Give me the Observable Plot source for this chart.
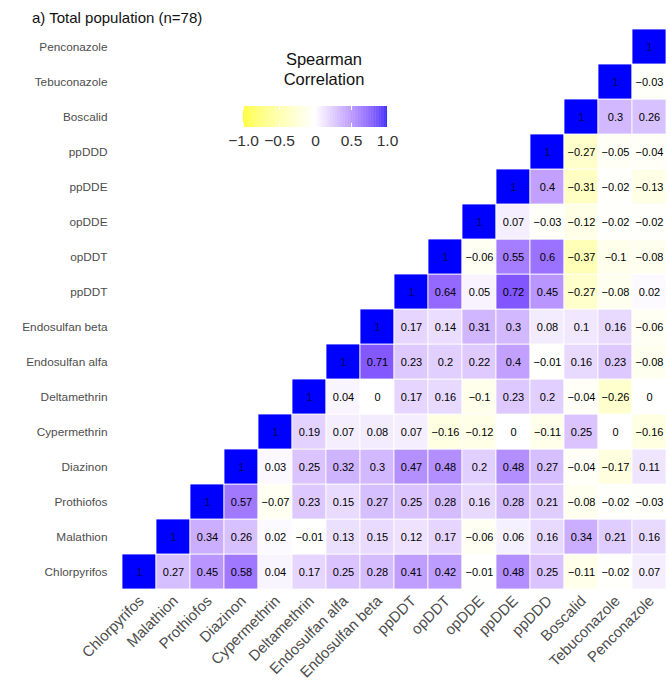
<!DOCTYPE html>
<html>
<head>
<meta charset="utf-8">
<script src="https://cdn.jsdelivr.net/npm/d3@7"></script>
<script src="https://cdn.jsdelivr.net/npm/@observablehq/plot@0.6"></script>
<style>
  body { margin: 0; background: #fff; font-family: "Liberation Sans", Arial, sans-serif; }
  #wrap { position: relative; width: 671px; height: 680px; overflow: hidden; }
  #title { position: absolute; left: 32px; top: 9px; font-size: 15px; color: #111; }
  #ltitle { position: absolute; left: 224px; top: 50px; width: 200px; text-align: center; font-size: 16.5px; line-height: 19.5px; color: #111; }
  #lbar { position: absolute; left: 212px; top: 91px; }
</style>
</head>
<body>
<div id="wrap">
  <div id="chart"></div>
  <div id="title">a) Total population (n=78)</div>
  <div id="ltitle">Spearman<br>Correlation</div>
  <div id="lbar"></div>
</div>
<script>
// Variables: columns left→right, rows bottom→top
const variables = ["Chlorpyrifos","Malathion","Prothiofos","Diazinon","Cypermethrin","Deltamethrin",
  "Endosulfan alfa","Endosulfan beta","ppDDT","opDDT","opDDE","ppDDE","ppDDD","Boscalid","Tebuconazole","Penconazole"];

// Correlations of each row variable with the variables to its right (diagonal = 1)
const rChlorpyrifos   = [0.27, 0.45, 0.58, 0.04, 0.17, 0.25, 0.28, 0.41, 0.42, -0.01, 0.48, 0.25, -0.11, -0.02, 0.07];
const rMalathion      = [0.34, 0.26, 0.02, -0.01, 0.13, 0.15, 0.12, 0.17, -0.06, 0.06, 0.16, 0.34, 0.21, 0.16];
const rProthiofos     = [0.57, -0.07, 0.23, 0.15, 0.27, 0.25, 0.28, 0.16, 0.28, 0.21, -0.08, -0.02, -0.03];
const rDiazinon       = [0.03, 0.25, 0.32, 0.3, 0.47, 0.48, 0.2, 0.48, 0.27, -0.04, -0.17, 0.11];
const rCypermethrin   = [0.19, 0.07, 0.08, 0.07, -0.16, -0.12, 0, -0.11, 0.25, 0, -0.16];
const rDeltamethrin   = [0.04, 0, 0.17, 0.16, -0.1, 0.23, 0.2, -0.04, -0.26, 0];
const rEndosulfanAlfa = [0.71, 0.23, 0.2, 0.22, 0.4, -0.01, 0.16, 0.23, -0.08];
const rEndosulfanBeta = [0.17, 0.14, 0.31, 0.3, 0.08, 0.1, 0.16, -0.06];
const rppDDT          = [0.64, 0.05, 0.72, 0.45, -0.27, -0.08, 0.02];
const ropDDT          = [-0.06, 0.55, 0.6, -0.37, -0.1, -0.08];
const ropDDE          = [0.07, -0.03, -0.12, -0.02, -0.02];
const rppDDE          = [0.4, -0.31, -0.02, -0.13];
const rppDDD          = [-0.27, -0.05, -0.04];
const rBoscalid       = [0.3, 0.26];
const rTebuconazole   = [-0.03];
const rPenconazole    = [];

const legendTicks = [-1, -0.5, 0, 0.5, 1];
const legendTickLabels = ["−1.0", "−0.5", "0", "0.5", "1.0"];

const rowLists = [rChlorpyrifos, rMalathion, rProthiofos, rDiazinon, rCypermethrin, rDeltamethrin,
  rEndosulfanAlfa, rEndosulfanBeta, rppDDT, ropDDT, ropDDE, rppDDE, rppDDD, rBoscalid, rTebuconazole, rPenconazole];

const data = [];
rowLists.forEach((vals, i) => {
  data.push({row: variables[i], col: variables[i], r: 1});
  vals.forEach((v, k) => data.push({row: variables[i], col: variables[i + 1 + k], r: v}));
});

const fmt = v => String(v).replace("-", "−");

const colorOpts = {type: "linear", domain: [-1, 0, 1], range: ["yellow", "white", "blue"], interpolate: "lab"};

const chart = Plot.plot({
  width: 671,
  height: 680,
  marginLeft: 117,
  marginRight: 0,
  marginTop: 24,
  marginBottom: 87,
  style: {fontFamily: "Liberation Sans, Arial, sans-serif", background: "white"},
  x: {domain: variables, padding: 0},
  y: {domain: variables.slice().reverse(), padding: 0},
  color: colorOpts,
  marks: [
    Plot.cell(data, {x: "col", y: "row", fill: "r", stroke: "white", strokeWidth: 0.8}),
    Plot.text(data, {x: "col", y: "row", text: d => fmt(d.r), fill: d => d.r === 1 ? "#000060" : "black", fontSize: 11}),
    Plot.axisY({tickSize: 0, tickPadding: 10, fontSize: 11.8, fill: "#4d4d4d", label: null}),
    Plot.axisX({tickSize: 0, tickPadding: 3, tickRotate: -45, fontSize: 15, fill: "#4d4d4d", label: null, dx: 2, dy: 2})
  ]
});
document.getElementById("chart").appendChild(chart);

const steps = d3.range(-1, 1, 0.01);
const legend = Plot.plot({
  width: 200,
  height: 70,
  marginLeft: 31,
  marginRight: 25,
  marginTop: 15,
  marginBottom: 34,
  style: {fontFamily: "Liberation Sans, Arial, sans-serif", background: "transparent", overflow: "visible"},
  x: {domain: [-1, 1]},
  y: {domain: [0, 1], axis: null},
  color: colorOpts,
  marks: [
    Plot.rect(steps, {x1: d => d, x2: d => d + 0.0105, y1: 0, y2: 1, fill: d => d + 0.005}),
    Plot.ruleX(legendTicks, {y1: 0, y2: 0.2, stroke: "white", strokeWidth: 1}),
    Plot.ruleX(legendTicks, {y1: 0.8, y2: 1, stroke: "white", strokeWidth: 1}),
    Plot.axisX({ticks: legendTicks, tickFormat: d => legendTickLabels[legendTicks.indexOf(d)], tickSize: 0, tickPadding: 7, fontSize: 15.5, fill: "#333", label: null})
  ]
});
document.getElementById("lbar").appendChild(legend);
</script>
</body>
</html>
